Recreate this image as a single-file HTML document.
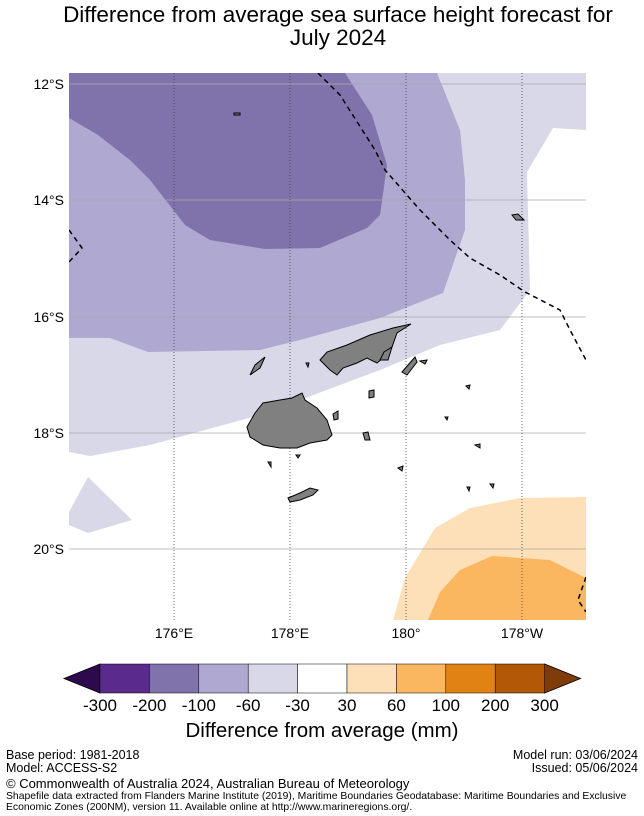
<!DOCTYPE html>
<html><head><meta charset="utf-8"><style>
body{margin:0;background:#fff;font-family:"Liberation Sans",sans-serif;}
#wrap{position:relative;width:644px;height:816px;overflow:hidden;}
</style></head><body>
<div id="wrap">
<svg id="svg" width="644" height="816" xmlns="http://www.w3.org/2000/svg" font-family="Liberation Sans, sans-serif">
<text x="338" y="22" font-size="22.5" text-anchor="middle">Difference from average sea surface height forecast for</text>
<text x="338" y="45" font-size="22.5" text-anchor="middle">July 2024</text>
<g>
<clipPath id="mc"><rect x="69" y="73" width="517" height="547"/></clipPath>
<g clip-path="url(#mc)">
<rect x="69" y="73" width="517" height="547" fill="#fff"/>
<polygon fill="#d8d8e9" points="69,73 586,73 586,130 553,128 527,172 530,290 500,330 440,345 380,370 340,385 260,415 150,445 90,456 69,452"/>
<polygon fill="#d8d8e9" points="69,512 88,477 132,520 88,533 69,525"/>
<polygon fill="#afa8d0" points="69,73 437,73 460,130 465,180 465,230 443,293 380,318 300,340 260,350 148,352 110,338 69,338"/>
<polygon fill="#8073ab" points="69,73 345,73 372,115 387,165 380,215 367,228 320,248 265,249 210,240 185,225 150,180 130,160 98,135 69,118"/>
<polygon fill="#fde0b8" points="393,620 405,578 435,528 470,508 520,498 586,497 586,620"/>
<polygon fill="#fbb660" points="428,620 440,592 460,570 492,556 550,560 586,578 586,620"/>
<g stroke="#aaa" stroke-width="0.8">
<line x1="69" x2="586" y1="84" y2="84"/><line x1="69" x2="586" y1="200" y2="200"/><line x1="69" x2="586" y1="317" y2="317"/><line x1="69" x2="586" y1="433" y2="433"/><line x1="69" x2="586" y1="549" y2="549"/>
</g>
<g stroke="#444" stroke-width="0.8" stroke-dasharray="1,2">
<line x1="174" x2="174" y1="73" y2="620"/><line x1="290" x2="290" y1="73" y2="620"/><line x1="406" x2="406" y1="73" y2="620"/><line x1="522" x2="522" y1="73" y2="620"/>
</g>
<g fill="none" stroke="#000" stroke-width="1.5" stroke-dasharray="5,4">
<polyline points="69,230 82,248 69,262"/>
<polyline points="318,73 340,95 375,150 385,170 420,210 450,240 470,258 500,275 525,292 560,310 570,330 586,360"/>
<polyline points="586,577 578,600 586,612"/>
</g>
<g fill="#808080" stroke="#000" stroke-width="1">
<polygon points="247,427 255,413 263,403 280,400 292,398 302,393 305,400 317,408 327,420 332,435 327,440 310,443 297,448 280,448 263,445 250,437"/>
<polygon points="320,360 327,352 347,345 370,335 393,328 411,324 397,333 392,347 383,358 377,363 367,358 357,363 343,368 337,375 330,370"/>
<polygon points="402,372 415,357 417,362 407,375"/>
<polygon points="288,498 300,493 310,488 318,490 313,495 300,500 290,502"/>
<polygon points="384,352 392,347 388,360 380,360"/>
<polygon points="369,391 374,390 374,397 369,398"/>
<polygon points="333,414 338,411 338,419 334,420"/>
<polygon points="363,433 368,432 370,440 365,440"/>
<polygon points="250,375 255,365 265,357 260,368"/>
<polygon points="512,215 518,214 524,220 516,220"/>
<polygon points="234,113 240,113 240,115 234,115"/>
<polygon points="398,468 403,466 402,471"/>
<polygon points="475,445 480,444 480,448"/>
<polygon points="268,462 271,462 271,467"/>
<polygon points="420,361 427,360 425,364"/>
<polygon points="306,363 309,363 308,367"/>
<polygon points="296,455 300,455 298,458"/>
<polygon points="466,386 470,385 469,389"/>
<polygon points="445,417 448,417 447,420"/>
<polygon points="467,487 470,487 469,491"/>
<polygon points="490,484 494,484 493,488"/>
</g>
</g>
</g>
<g font-size="14">
<text x="64" y="89" text-anchor="end">12°S</text><text x="64" y="205" text-anchor="end">14°S</text><text x="64" y="322" text-anchor="end">16°S</text><text x="64" y="438" text-anchor="end">18°S</text><text x="64" y="554" text-anchor="end">20°S</text>
</g>
<g font-size="14" text-anchor="middle">
<text x="174" y="638">176°E</text><text x="290" y="638">178°E</text><text x="406" y="638">180°</text><text x="522" y="638">178°W</text>
</g>
<g id="cbar"></g>
<text x="322" y="737" font-size="20.5" text-anchor="middle">Difference from average (mm)</text>
<g font-size="12.5">
<text x="6" y="759">Base period: 1981-2018</text>
<text x="6" y="772">Model: ACCESS-S2</text>
<text x="638" y="759" text-anchor="end">Model run: 03/06/2024</text>
<text x="638" y="772" text-anchor="end">Issued: 05/06/2024</text>
<text x="6" y="788" font-size="13">© Commonwealth of Australia 2024, Australian Bureau of Meteorology</text>
<text x="6" y="799" font-size="10.4">Shapefile data extracted from Flanders Marine Institute (2019), Maritime Boundaries Geodatabase: Maritime Boundaries and Exclusive</text>
<text x="6" y="810" font-size="10.4">Economic Zones (200NM), version 11. Available online at http://www.marineregions.org/.</text>
</g>
</svg>
</div>
<script>
const levels=["-300","-200","-100","-60","-30","30","60","100","200","300"];
const binColors=["#5a2a8c","#8073ab","#afa8d0","#d8d8e9","#ffffff","#fde0b8","#fbb660","#e08214","#b35806"];
const extColors=["#2d0a4e","#7f3b08"];
const g=document.getElementById('cbar');
const NS="http://www.w3.org/2000/svg";
const x0=100,w=49.4,y0=664,h=29;
function mk(t,a){const e=document.createElementNS(NS,t);for(const k in a)e.setAttribute(k,a[k]);g.appendChild(e);return e;}
const lt=mk('polygon',{points:`${x0},${y0} ${x0-36},${y0+h/2} ${x0},${y0+h}`,fill:extColors[0],stroke:'#000','stroke-width':0.8});


const xe=x0+w*binColors.length;
const rt=mk('polygon',{points:`${xe},${y0} ${xe+36},${y0+h/2} ${xe},${y0+h}`,fill:extColors[1],stroke:'#000','stroke-width':0.8});


binColors.forEach((c,i)=>{const r=mk('rect',{x:x0+i*w,y:y0,width:w,height:h,fill:c,stroke:'#000','stroke-width':0.5});

});
levels.forEach((l,i)=>{const t=mk('text',{x:x0+i*w,y:711,'font-size':17,'text-anchor':'middle'});t.textContent=l;

});
</script>
</body></html>
